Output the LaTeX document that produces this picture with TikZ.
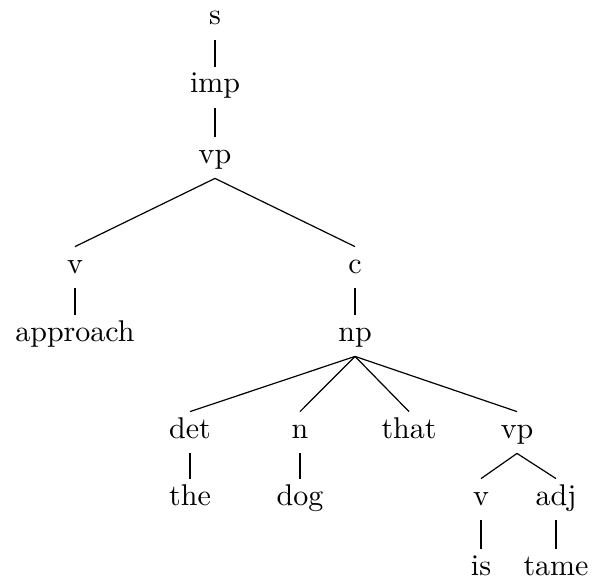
\documentclass[tikz,border=0pt]{standalone}
\newcommand\treetxt[1]{\scalebox{1.5}{#1}}
\begin{document}
\begin{tikzpicture}[x=0.5pt,y=-0.5pt,
  lbl/.style={anchor=base, font=\fontsize{10}{12}\selectfont, text height=10.5pt, text depth=5pt, inner xsep=0pt, inner ysep=2.5pt},
  vedge/.style={line width=1pt},
  sedge/.style={line width=0.6pt}]
\useasboundingbox (0,0) rectangle (592,577);
\node[lbl] (s) at (215,25) {\treetxt{s}};
\node[lbl] (imp) at (215,93) {\treetxt{imp}};
\node[lbl] (vp) at (215,163) {\treetxt{vp}};
\node[lbl] (v) at (75,273) {\treetxt{v}};
\node[lbl] (approach) at (75,341) {\treetxt{approach}};
\node[lbl] (c) at (355,273) {\treetxt{c}};
\node[lbl] (np) at (355,341) {\treetxt{np}};
\node[lbl] (det) at (190,438) {\treetxt{det}};
\node[lbl] (the) at (190,505) {\treetxt{the}};
\node[lbl] (n) at (300,438) {\treetxt{n}};
\node[lbl] (dog) at (300,505) {\treetxt{dog}};
\node[lbl] (that) at (409,438) {\treetxt{that}};
\node[lbl] (vpb) at (517,438) {\treetxt{vp}};
\node[lbl] (vb) at (481,505) {\treetxt{v}};
\node[lbl] (is) at (481,575) {\treetxt{is}};
\node[lbl] (adj) at (556,505) {\treetxt{adj}};
\node[lbl] (tame) at (556,575) {\treetxt{tame}};
\draw[vedge] (s.south) -- (imp.north);
\draw[vedge] (imp.south) -- (vp.north);
\draw[sedge] (vp.south) -- (v.north);
\draw[sedge] (vp.south) -- (c.north);
\draw[vedge] (v.south) -- (approach.north);
\draw[vedge] (c.south) -- (np.north);
\draw[sedge] (np.south) -- (det.north);
\draw[sedge] (np.south) -- (n.north);
\draw[sedge] (np.south) -- (that.north);
\draw[sedge] (np.south) -- (vpb.north);
\draw[vedge] (det.south) -- (the.north);
\draw[vedge] (n.south) -- (dog.north);
\draw[sedge] (vpb.south) -- (vb.north);
\draw[sedge] (vpb.south) -- (adj.north);
\draw[vedge] (vb.south) -- (is.north);
\draw[vedge] (adj.south) -- (tame.north);
\end{tikzpicture}
\end{document}
